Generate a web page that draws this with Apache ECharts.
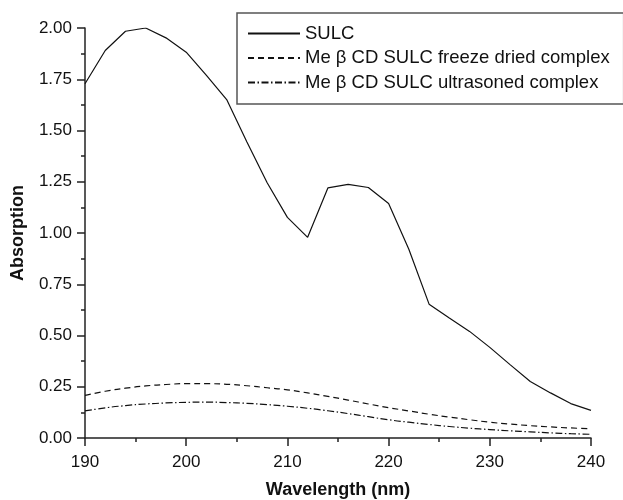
<!DOCTYPE html>
<html>
<head>
<meta charset="utf-8">
<script src="https://cdn.jsdelivr.net/npm/echarts@6/dist/echarts.min.js"></script>
<style>
  html, body { margin: 0; padding: 0; background: #fff; }
  #chart { width: 623px; height: 500px; }
</style>
</head>
<body>
<div id="chart"></div>
<script>
// UV absorption spectra, sampled every 2 nm
const wavelengths = [190, 192, 194, 196, 198, 200, 202, 204, 206, 208, 210, 212, 214,
                     216, 218, 220, 222, 224, 226, 228, 230, 232, 234, 236, 238, 240];

const sulc = [1.728, 1.890, 1.984, 2.000, 1.952, 1.882, 1.769, 1.651, 1.444, 1.245, 1.076, 0.979, 1.220,
              1.237, 1.222, 1.144, 0.921, 0.653, 0.585, 0.520, 0.442, 0.358, 0.276, 0.220, 0.168, 0.135];

const freezeDried = [0.208, 0.228, 0.243, 0.254, 0.261, 0.265, 0.265, 0.262, 0.255, 0.245, 0.235, 0.220, 0.203,
                     0.185, 0.166, 0.148, 0.132, 0.116, 0.102, 0.089, 0.077, 0.068, 0.060, 0.054, 0.049, 0.045];

const ultrasoned = [0.132, 0.147, 0.158, 0.166, 0.171, 0.174, 0.175, 0.173, 0.169, 0.163, 0.155, 0.145, 0.133,
                    0.119, 0.104, 0.089, 0.077, 0.066, 0.056, 0.048, 0.041, 0.035, 0.030, 0.025, 0.021, 0.018];

const seriesNames = ['SULC', 'Me \u03b2 CD SULC freeze dried complex', 'Me \u03b2 CD SULC ultrasoned complex'];

const pairs = ys => wavelengths.map((x, i) => [x, ys[i]]);

const font = 'Liberation Sans, Arial, Helvetica, sans-serif';
const ink = '#222';

const axisCommon = {
  axisLine: { show: true, onZero: false, lineStyle: { color: ink, width: 1.5 } },
  axisTick: { show: true, inside: false, length: 8, lineStyle: { color: ink, width: 1.5 } },
  minorTick: { show: true, splitNumber: 2, length: 4, lineStyle: { color: ink, width: 1.5 } },
  splitLine: { show: false },
  nameLocation: 'middle',
  nameTextStyle: { fontFamily: font, fontWeight: 'bold', fontSize: 18, color: '#111' }
};

const chart = echarts.init(document.getElementById('chart'), null, { renderer: 'canvas' });

chart.setOption({
  animation: false,
  backgroundColor: '#fff',
  grid: { left: 85, right: 32, top: 28, bottom: 62, containLabel: false, outerBoundsMode: 'none' },
  legend: {
    orient: 'vertical',
    left: 237,
    top: 13,
    padding: [11, 14, 12, 10],
    borderColor: '#555',
    borderWidth: 1.5,
    itemWidth: 52,
    itemHeight: 14,
    itemGap: 5.5,
    // line samples only, no marker dot
    itemStyle: { color: 'rgba(0,0,0,0)', borderWidth: 0, opacity: 0 },
    textStyle: { fontFamily: font, fontSize: 18.5, color: '#111' },
    data: seriesNames
  },
  xAxis: Object.assign({}, axisCommon, {
    type: 'value',
    min: 190,
    max: 240,
    interval: 10,
    name: 'Wavelength (nm)',
    nameGap: 43,
    axisLabel: { fontFamily: font, fontSize: 17, color: '#111', margin: 16 }
  }),
  yAxis: Object.assign({}, axisCommon, {
    type: 'value',
    min: 0,
    max: 2,
    interval: 0.25,
    name: 'Absorption',
    nameGap: 58,
    axisLabel: {
      fontFamily: font, fontSize: 17, color: '#111', margin: 13,
      formatter: v => v.toFixed(2)
    }
  }),
  series: [
    {
      name: seriesNames[0], type: 'line', data: pairs(sulc),
      symbol: 'none', lineStyle: { color: '#111', width: 1.2, type: 'solid' },
      itemStyle: { color: '#111' }
    },
    {
      name: seriesNames[1], type: 'line', data: pairs(freezeDried), smooth: true,
      symbol: 'none', lineStyle: { color: '#111', width: 1.2, type: [6, 4] },
      itemStyle: { color: '#111' }
    },
    {
      name: seriesNames[2], type: 'line', data: pairs(ultrasoned), smooth: true,
      symbol: 'none', lineStyle: { color: '#111', width: 1.2, type: [7, 2.5, 1.5, 2.5] },
      itemStyle: { color: '#111' }
    }
  ]
});
</script>
</body>
</html>
